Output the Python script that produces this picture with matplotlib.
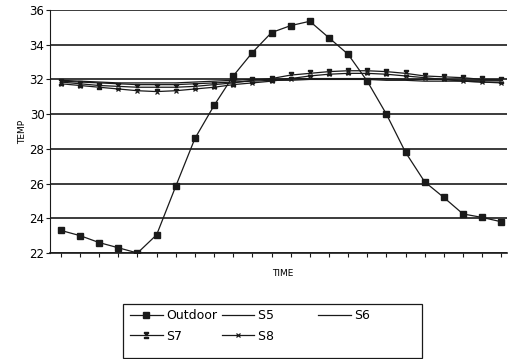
import matplotlib.pyplot as plt
from matplotlib.patches import Rectangle
import numpy as np

hours = list(range(24))
outdoor = [23.3, 23.0, 22.6, 22.3, 22.0, 23.05, 25.85, 28.6, 30.5, 32.2, 33.55, 34.7,
           35.1, 35.35, 34.4, 33.45, 31.9, 30.0, 27.8, 26.1, 25.2, 24.25, 24.05, 23.8]
s5 = [31.95, 31.9, 31.85, 31.8, 31.8, 31.8, 31.8, 31.85, 31.9, 31.95, 32.0, 32.0,
      32.05, 32.05, 32.05, 32.05, 32.05, 32.05, 32.0, 32.0, 32.0, 31.95, 31.95, 31.95]
s6 = [31.9, 31.85, 31.8, 31.75, 31.7, 31.7, 31.7, 31.75, 31.8, 31.85, 31.9, 31.95,
      31.95, 32.0, 32.0, 32.0, 32.0, 31.95, 31.95, 31.9, 31.9, 31.9, 31.85, 31.85]
s7 = [31.85, 31.75, 31.65, 31.6, 31.55, 31.55, 31.55, 31.6, 31.7, 31.8, 31.95, 32.05,
      32.25, 32.35, 32.45, 32.5, 32.5, 32.45, 32.35, 32.2, 32.15, 32.1, 32.0, 31.97]
s8 = [31.75, 31.65, 31.55, 31.45, 31.35, 31.3, 31.35, 31.45, 31.55, 31.7, 31.8, 31.9,
      32.05, 32.2, 32.3, 32.35, 32.35, 32.3, 32.2, 32.1, 32.0, 31.9, 31.85, 31.8]
yticks = [22, 24, 26, 28, 30, 32, 34, 36]

plt.rcParams['font.family'] = ['DejaVu Sans']
fig = plt.figure(figsize=(5.09, 3.59), dpi=100)
ax = fig.add_axes([50 / 509, 1 - 253 / 359, 457 / 509, 243 / 359])

ink = '#1a1a1a'
l_out, = ax.plot(hours, outdoor, '-', color=ink, lw=0.9, marker='s', ms=4.5, label='Outdoor')
l5, = ax.plot(hours, s5, '-', color=ink, lw=0.9, label='S5')
l6, = ax.plot(hours, s6, '-', color=ink, lw=0.9, label='S6')
l7, = ax.plot(hours, s7, '-', color=ink, lw=0.9, marker=r'$\Xi$', ms=4.5, label='S7')
l8, = ax.plot(hours, s8, '-', color=ink, lw=0.9, marker='x', ms=3.5, mew=0.9, label='S8')

ax.set_xlim(-0.57, 23.3)
ax.set_ylim(22, 36)
ax.set_yticks(yticks)
ax.set_xticks(hours)
ax.set_xticklabels([])
for y in yticks:
    ax.axhline(y, color=ink, lw=1.2, zorder=0)
for side in ['top', 'right']:
    ax.spines[side].set_visible(False)
ax.spines['left'].set_color(ink)
ax.spines['bottom'].set_color(ink)
ax.spines['bottom'].set_linewidth(1.2)
ax.tick_params(axis='both', direction='out', length=3, color=ink, labelsize=8.5, pad=1)

ax.set_ylabel('TEMP', fontsize=6.5, labelpad=1.5)
fig.text(283 / 509, 1 - 273 / 359, 'TIME', fontsize=6.5, ha='center', va='center')

# legend box drawn separately so it can be taller than the two rows
fig.patches.append(Rectangle((123 / 509, 1 - 358 / 359), 299 / 509, 54 / 359,
                             transform=fig.transFigure, fill=False, ec=ink, lw=0.9))
pad = ' ' * 10
fig.legend([l_out, l7, l5, l8, l6], ['Outdoor', 'S7', 'S5' + pad, 'S8' + pad, 'S6'],
           ncol=3, loc='upper left', bbox_to_anchor=(130 / 509, 1 - 309 / 359),
           frameon=False, fontsize=9, handlelength=2.6, handletextpad=0.3,
           columnspacing=0.35, borderpad=0, labelspacing=0.6, borderaxespad=0)

fig.savefig('out.png', dpi=100)
